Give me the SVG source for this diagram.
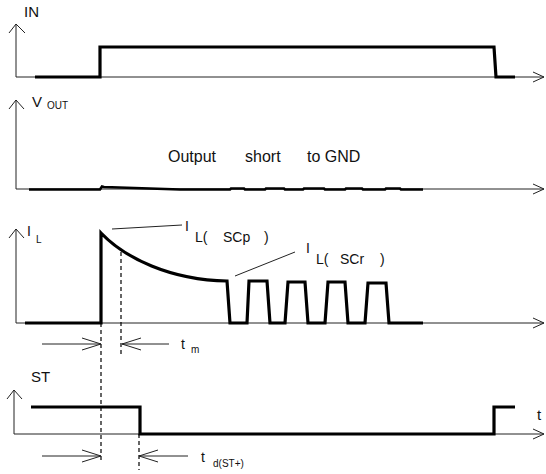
<svg xmlns="http://www.w3.org/2000/svg" width="546" height="474" viewBox="0 0 546 474">
<style>
.ax{fill:none;stroke:#222;stroke-width:1;}
.sig{fill:none;stroke:#000;stroke-width:3.2;stroke-linejoin:miter;}
.thin{fill:none;stroke:#222;stroke-width:1;}
.dash{fill:none;stroke:#000;stroke-width:1.2;stroke-dasharray:4,3;}
.t{font-family:"Liberation Sans",Arial,sans-serif;fill:#111;}
</style>
<rect width="546" height="474" fill="#fff"/>
<g id="panel-in">
<path class="ax" d="M16,77 V24 M9,33 L16,24 L25,33 M16,77 H544 M533,72 L544,77 L533,82"/>
<path class="sig" d="M35,77 H100 V47 H494 L496,77 H515"/>
<text class="t" x="24" y="17" font-size="15">IN</text>
</g>
<g id="panel-vout">
<path class="ax" d="M16,189 V100 M9,109 L16,100 L24,109 M16,189 H544 M533,184 L544,189 L533,194"/>
<path class="sig" style="stroke-width:2.6" d="M29,189.5 H100 L102,186.5 L104,187 L180,189.5 H230 L231,188.5 H244 L245,189.5 H265 L266,188.5 H284 L285,189.5 H303 L304,188.5 H324 L325,189.5 H345 L346,188.5 H362 L363,189.5 H385 L386,188.5 H400 L401,189.5 H423"/>
<text class="t" x="32" y="107" font-size="15">V</text>
<text class="t" x="47" y="109" font-size="10">OUT</text>
<text class="t" x="168" y="162" font-size="16">Output</text>
<text class="t" x="245" y="162" font-size="16">short</text>
<text class="t" x="307" y="162" font-size="16">to GND</text>
</g>
<g id="panel-il">
<path class="ax" d="M16,323 V229 M9,238 L16,229 L24,238 M16,323 H544 M533,318 L544,323 L533,328"/>
<path class="sig" d="M25,323 H101 V233 C125,258 170,280 227,281 L230,323 H247 L249,281 H267 L270,323 H285 L288,282 H305 L308,323 H325 L328,282 H345 L348,323 H365 L368,283 H386 L389,323 H423"/>
<path class="thin" d="M112,229 L182,225 M235,276 L295,252"/>
<text class="t" x="27" y="236" font-size="14">I</text>
<text class="t" x="36" y="243" font-size="10">L</text>
<text class="t" x="185" y="231" font-size="14">I</text>
<text class="t" x="195" y="242" font-size="14">L(</text>
<text class="t" x="223" y="242" font-size="14">SCp</text>
<text class="t" x="264" y="242" font-size="14">)</text>
<text class="t" x="306" y="253" font-size="14">I</text>
<text class="t" x="316" y="264" font-size="14">L(</text>
<text class="t" x="340" y="264" font-size="14">SCr</text>
<text class="t" x="380" y="264" font-size="14">)</text>
</g>
<g id="panel-st">
<path class="ax" d="M14,434 V390 M7,399 L14,390 L22,399 M14,434 H544 M533,429 L544,434 L533,439"/>
<path class="sig" d="M31,407 H140 V434 H494 V407 H515"/>
<text class="t" x="31" y="382" font-size="15">ST</text>
<text class="t" x="537" y="420" font-size="15">t</text>
</g>
<g id="timing">
<path class="dash" d="M101,323 V463 M121,252 V357 M139,434 V470"/>
<path class="ax" d="M42,344 H101 M82,338 L101,344 L82,350 M169,344 H122 M141,338 L122,344 L141,350 M42,456 H101 M82,450 L101,456 L82,462 M188,456 H139 M158,450 L139,456 L158,462"/>
<text class="t" x="181" y="349" font-size="14">t</text>
<text class="t" x="191" y="353" font-size="10">m</text>
<text class="t" x="201" y="462" font-size="14">t</text>
<text class="t" x="213" y="467" font-size="10">d(ST+)</text>
</g>
</svg>
